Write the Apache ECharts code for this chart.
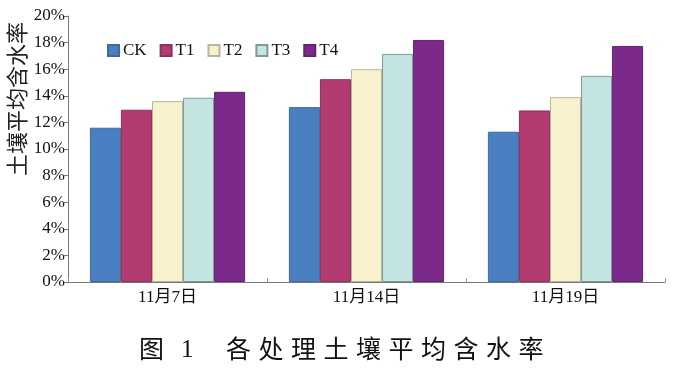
<!DOCTYPE html>
<html><head><meta charset="utf-8">
<script src="https://cdn.jsdelivr.net/npm/echarts@6/dist/echarts.min.js"></script>
<style>html,body{margin:0;padding:0;background:#fff}#c{width:677px;height:373px}</style>
</head><body><div id="c"></div>
<script>
const categories = ['11月7日', '11月14日', '11月19日'];
const seriesNames = ['CK', 'T1', 'T2', 'T3', 'T4'];
const CK = [11.6, 13.15, 11.3];
const T1 = [12.95, 15.25, 12.9];
const T2 = [13.6, 16.0, 13.9];
const T3 = [13.85, 17.15, 15.5];
const T4 = [14.3, 18.2, 17.75];
const yTicks = [0, 2, 4, 6, 8, 10, 12, 14, 16, 18, 20];
const yName = '土壤平均含水率';
const figWord = '图';
const figNum = '1';
const figTitle = '各处理土壤平均含水率';

const values = [CK, T1, T2, T3, T4];
const colors = ['#4a80c2', '#b23b72', '#f8f1cd', '#c3e4e1', '#7b2a8b'];
const borders = ['#3f6a9e', '#8e3060', '#b9b49a', '#7f9a99', '#642272'];
const serif = '"Liberation Serif", "Noto Sans CJK SC", serif';

const titleChars = figTitle.split('').map((ch, i) => ({
  type: 'text', x: 226 + i * 32.5, y: 336,
  style: { text: ch, font: '25px "Noto Sans CJK SC"', fill: '#111' }
}));

const chart = echarts.init(document.getElementById('c'));
chart.setOption({
  animation: false,
  backgroundColor: '#fff',
  grid: { left: 68, right: 12, top: 16, bottom: 91, containLabel: false },
  legend: {
    data: seriesNames,
    left: 102, top: 37,
    itemWidth: 11, itemHeight: 11, itemGap: 13,
    icon: 'rect',
    textStyle: { fontFamily: serif, fontSize: 17, color: '#111', padding: [0, 0, 0, -1] }
  },
  xAxis: {
    type: 'category', data: categories,
    axisLine: { lineStyle: { color: '#777', width: 1 } },
    axisTick: { show: true, inside: true, length: 4, lineStyle: { color: '#999' } },
    axisLabel: { fontFamily: serif, fontSize: 17, color: '#111', margin: 7 }
  },
  yAxis: {
    type: 'value', min: 0, max: 20, interval: 2,
    axisLine: { show: true, lineStyle: { color: '#777', width: 1 } },
    axisTick: { show: true, length: 4, lineStyle: { color: '#777' } },
    splitLine: { show: false },
    axisLabel: { fontFamily: serif, fontSize: 17, color: '#111', margin: 3,
      formatter: v => yTicks.includes(v) ? v + '%' : '' }
  },
  graphic: [
    { type: 'text', x: 6, y: 176, rotation: Math.PI / 2,
      style: { text: yName, font: '22px "Noto Sans CJK SC"', fill: '#222' } },
    { type: 'text', x: 139, y: 336,
      style: { text: figWord, font: '25px "Noto Sans CJK SC"', fill: '#111' } },
    { type: 'text', x: 181, y: 338,
      style: { text: figNum, font: '25px "Liberation Serif"', fill: '#111' } }
  ].concat(titleChars),
  series: seriesNames.map((n, i) => ({
    name: n, type: 'bar', data: values[i],
    barGap: '0%', barCategoryGap: '22%',
    itemStyle: { color: colors[i], borderColor: borders[i], borderWidth: 1 }
  }))
});
</script></body></html>
